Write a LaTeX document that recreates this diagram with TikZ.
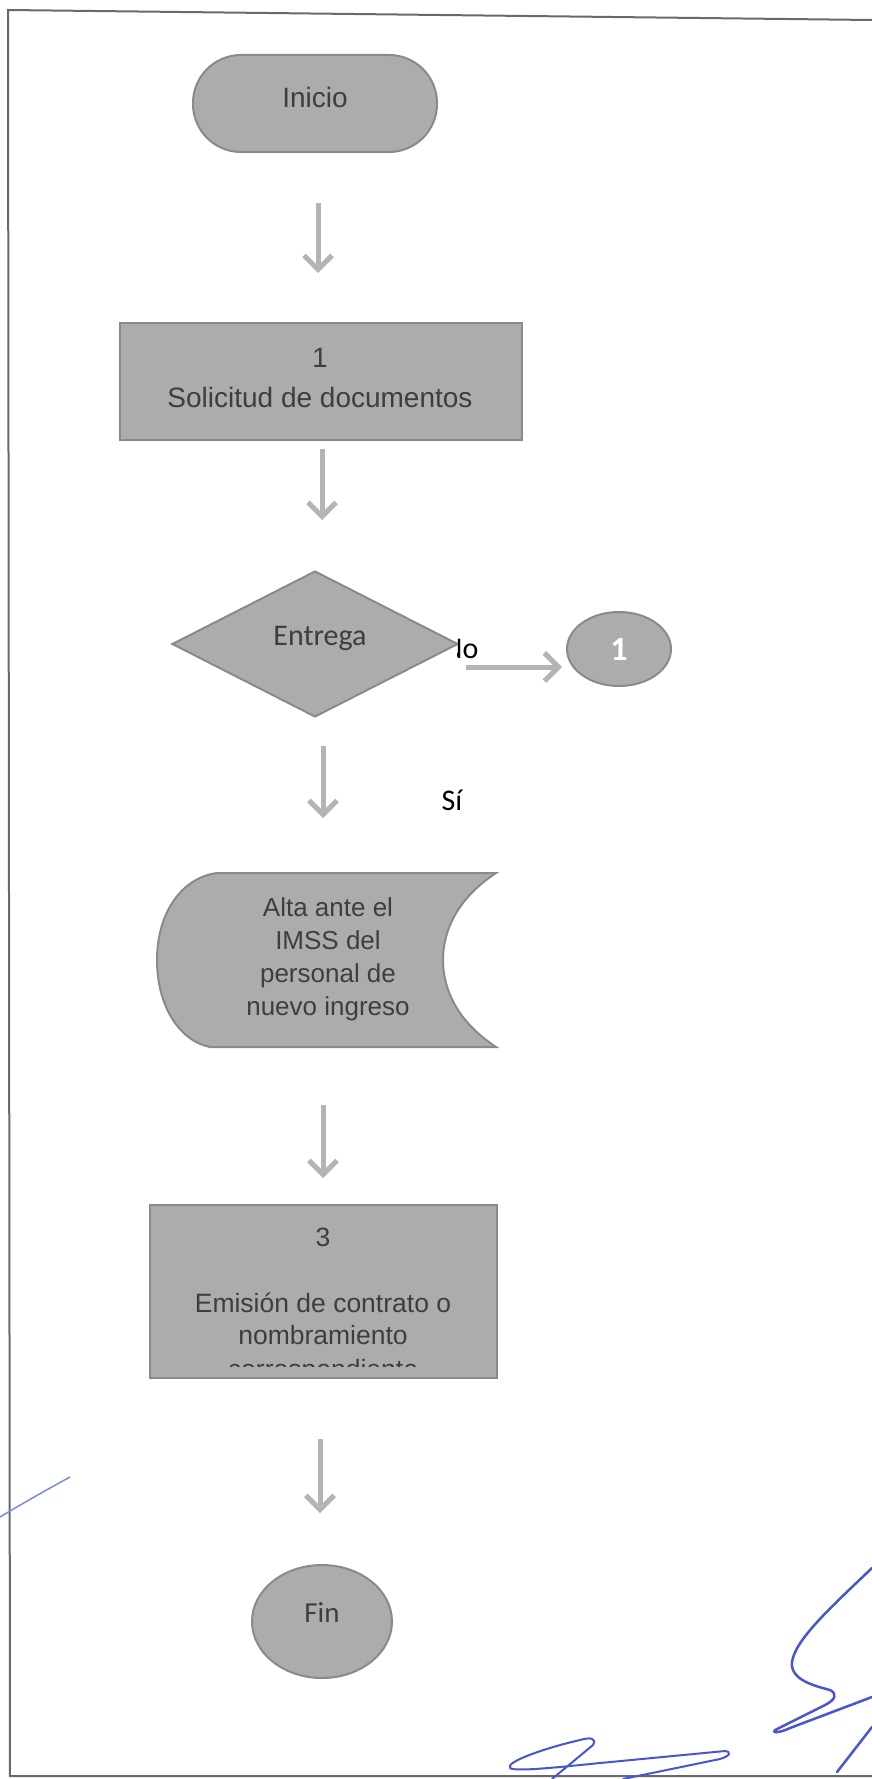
\documentclass[tikz,border=0pt]{standalone}
\usepackage{fontspec}
\setmainfont{Liberation Sans}
\newfontfamily\calfont{Carlito}
\usetikzlibrary{shapes.geometric,arrows.meta}
\definecolor{shp}{RGB}{172,172,172}
\definecolor{shpline}{RGB}{138,138,138}
\definecolor{txtc}{RGB}{62,62,62}
\definecolor{arrc}{RGB}{178,180,182}
\definecolor{frm}{RGB}{105,105,105}
\definecolor{ink}{RGB}{72,86,205}
\definecolor{inklight}{RGB}{120,140,220}
\tikzset{
  shapebox/.style={fill=shp,draw=shpline,line width=2pt,inner sep=0pt},
  pill/.style={shapebox,rounded corners=48pt,rectangle},
  procbox/.style={shapebox,rectangle},
  dia/.style={shapebox,diamond},
  ell/.style={shapebox,ellipse},
  arialtxt/.style={text=txtc,font=\fontsize{28pt}{34pt}\selectfont,inner sep=0pt},
  arialsm/.style={text=txtc,font=\fontsize{26.5pt}{32pt}\selectfont,inner sep=0pt},
  caltxt/.style={text=txtc,font=\calfont\fontsize{30pt}{36pt}\selectfont,inner sep=0pt},
  arrw/.style={draw=arrc,line width=5pt,-{Straight Barb[length=14pt,width=28pt]}},
  framel/.style={draw=frm,line width=2pt},
  sig/.style={draw=ink,line width=2.5pt,line cap=round,line join=round}
}
\begin{document}
\begin{tikzpicture}[x=1pt,y=-1pt]
\useasboundingbox (0,0) rectangle (872,1779);
\fill[white] (0,0) rectangle (872,1779);
% frame
\draw[framel] (872,20) -- (8,10) -- (10,1776) -- (872,1776);

% Inicio
\node[pill,minimum width=244pt,minimum height=97pt] (inicio) at (315,103.5) {};
\node[arialtxt,anchor=base] (tinicio) at (315,108) {Inicio};
\draw[arrw] (inicio.south) ++(3,50) -- ++(0,70);

% box 1
\node[procbox,minimum width=402pt,minimum height=117pt] (b1) at (321,381.5) {};
\node[arialtxt,anchor=base] (tb1a) at (320,367) {1};
\node[arialtxt,anchor=base] (tb1b) at (320,407) {Solicitud de documentos};
\draw[arrw] (b1.south) ++(1,8) -- ++(0,71);

% decision
\node[dia,minimum width=286pt,minimum height=146pt] (d) at (315,644) {};
\node[caltxt,anchor=base] (tentrega) at (320,645) {Entrega};
\begin{scope}
  \clip (457,620) rectangle (500,680);
  \node[caltxt,text=black,anchor=base west] (tno) at (443,658) {No};
\end{scope}
\node[ell,minimum width=104pt,minimum height=74pt] (c1) at (619,649) {};
\node[text=white,font=\calfont\bfseries\fontsize{34pt}{38pt}\selectfont,inner sep=0pt] (tc1) at (619,649) {1};
\draw[arrw] (d.east) ++(7,23) -- ++(96,0);
\draw[arrw] (d.south) ++(8,28) -- ++(0,72);
\node[caltxt,text=black,anchor=base] (tsi) at (452,810) {Sí};

% stored data shape
\draw[shapebox] (217,873) -- (496,873)
  .. controls (458,898) and (443,930) .. (443,960)
  .. controls (443,990) and (458,1022) .. (496,1047)
  -- (210,1047)
  .. controls (177,1040) and (157,1003) .. (157,960)
  .. controls (157,915) and (180,878) .. (217,873) -- cycle;
\coordinate (alta) at (323,1047);
\node[arialsm,font=\fontsize{26pt}{32pt}\selectfont,anchor=base] (ta1) at (328,916) {Alta ante el};
\node[arialsm,font=\fontsize{26pt}{32pt}\selectfont,anchor=base] (ta2) at (328,949) {IMSS del};
\node[arialsm,font=\fontsize{26pt}{32pt}\selectfont,anchor=base] (ta3) at (328,982) {personal de};
\node[arialsm,font=\fontsize{26pt}{32pt}\selectfont,anchor=base] (ta4) at (328,1015) {nuevo ingreso};
\draw[arrw] (alta) ++(0,58) -- ++(0,73);

% box 3
\node[procbox,minimum width=347pt,minimum height=173pt] (b3) at (323.5,1291.5) {};
\node[arialsm,anchor=base] (tb3a) at (323,1246.5) {3};
\node[arialsm,anchor=base] (tb3b) at (323,1312) {Emisión de contrato o};
\node[arialsm,anchor=base] (tb3c) at (323,1344) {nombramiento};
\begin{scope}
  \clip (152,1350) rectangle (495,1366);
  \node[arialsm,anchor=base] (tb3d) at (323,1378) {correspondiente};
\end{scope}
\draw[arrw] (b3.south) ++(-3.5,60) -- ++(0,74);

% Fin
\node[ell,minimum width=140pt,minimum height=113pt] (fin) at (322,1621.5) {};
\node[caltxt,font=\calfont\fontsize{29pt}{34pt}\selectfont,anchor=base] (tfin) at (322,1622) {Fin};

% signature strokes
\draw[draw=inklight,line width=1.5pt] (0,1517) .. controls (25,1502) and (48,1489) .. (70,1477);
\draw[sig] (872,1568) .. controls (830,1608) and (795,1640) .. (792,1662)
  .. controls (790,1680) and (815,1686) .. (830,1690)
  .. controls (838,1694) and (835,1700) .. (825,1705) -- (775,1730)
  .. controls (771,1733) and (780,1733) .. (790,1728) -- (872,1697);
\draw[sig] (872,1727) -- (837,1772);
\draw[sig,line width=2pt] (552,1779) -- (593,1745)
  .. controls (597,1738) and (590,1737) .. (580,1740)
  .. controls (545,1748) and (505,1762) .. (510,1768)
  .. controls (515,1772) and (560,1767) .. (600,1763) -- (725,1751)
  .. controls (732,1752) and (730,1756) .. (720,1759) -- (623,1779);
\end{tikzpicture}
\end{document}
